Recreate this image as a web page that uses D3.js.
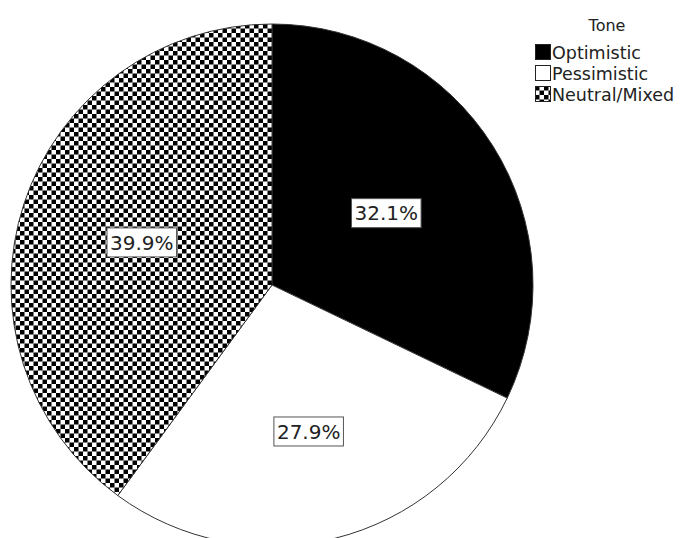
<!DOCTYPE html>
<html>
<head>
<meta charset="utf-8">
<script src="https://cdn.jsdelivr.net/npm/d3@7"></script>
<style>
  html, body { margin: 0; padding: 0; background: #fff; }
  svg { display: block; font-family: "DejaVu Sans", sans-serif; }
</style>
</head>
<body>
<svg id="chart" width="682" height="538"></svg>
<script>
// Tone of coverage, share of items
const categories = ["Optimistic", "Pessimistic", "Neutral/Mixed"];
const values = [32.1, 27.9, 39.9];
const legendTitle = "Tone";

// Layout
const W = 682, H = 538;
const cx = 272, cy = 285, R = 261;
const labelRadius = [135, 151, 137];
const fills = ["#000", "#fff", "url(#checker)"];
const cell = 4.5;

const svg = d3.select("#chart");

// Checkerboard fill for the neutral slice
const defs = svg.append("defs");
const pat = defs.append("pattern")
  .attr("id", "checker")
  .attr("patternUnits", "userSpaceOnUse")
  .attr("width", cell * 2).attr("height", cell * 2);
pat.append("rect").attr("width", cell * 2).attr("height", cell * 2).attr("fill", "#fff");
pat.append("rect").attr("x", 0).attr("y", 0).attr("width", cell).attr("height", cell).attr("fill", "#000");
pat.append("rect").attr("x", cell).attr("y", cell).attr("width", cell).attr("height", cell).attr("fill", "#000");

const pie = d3.pie().sort(null).value(d => d)
  .startAngle(0).endAngle(2 * Math.PI * d3.sum(values) / 99.9);
const arcs = pie(values);
const arc = d3.arc().innerRadius(0).outerRadius(R);

const g = svg.append("g").attr("transform", `translate(${cx},${cy})`);

g.selectAll("path.slice")
  .data(arcs)
  .join("path")
  .attr("class", "slice")
  .attr("d", arc)
  .attr("fill", (d, i) => fills[i])
  .attr("stroke", "#333")
  .attr("stroke-width", 1);

// Value labels in white boxes
const labels = g.selectAll("g.lbl")
  .data(arcs)
  .join("g")
  .attr("class", "lbl")
  .attr("transform", (d, i) => {
    const c = d3.arc().innerRadius(labelRadius[i]).outerRadius(labelRadius[i]).centroid(d);
    return `translate(${c[0]},${c[1]})`;
  });

labels.each(function(d) {
  const sel = d3.select(this);
  const t = sel.append("text")
    .attr("text-anchor", "middle")
    .attr("dy", "0.36em")
    .attr("font-size", 20)
    .attr("fill", "#222")
    .text(d3.format(".1f")(d.value) + "%");
  const bb = t.node().getBBox();
  sel.insert("rect", "text")
    .attr("x", bb.x - 3).attr("y", -14.5)
    .attr("width", bb.width + 6).attr("height", 29)
    .attr("fill", "#fff")
    .attr("stroke", "#555")
    .attr("stroke-width", 1);
});

// Legend
const legend = svg.append("g").attr("transform", "translate(535,0)");
legend.append("text")
  .attr("x", 72).attr("y", 31)
  .attr("text-anchor", "middle")
  .attr("font-size", 16)
  .attr("fill", "#222")
  .text(legendTitle);

const items = legend.selectAll("g.item")
  .data(categories)
  .join("g")
  .attr("class", "item")
  .attr("transform", (d, i) => `translate(0,${44 + i * 21})`);

items.append("rect")
  .attr("x", 0.5).attr("y", 0.5)
  .attr("width", 15).attr("height", 15)
  .attr("fill", (d, i) => fills[i])
  .attr("stroke", "#222")
  .attr("stroke-width", 1);

items.append("text")
  .attr("x", 17).attr("y", 15)
  .attr("font-size", 17.5)
  .attr("fill", "#222")
  .text(d => d);
</script>
</body>
</html>
